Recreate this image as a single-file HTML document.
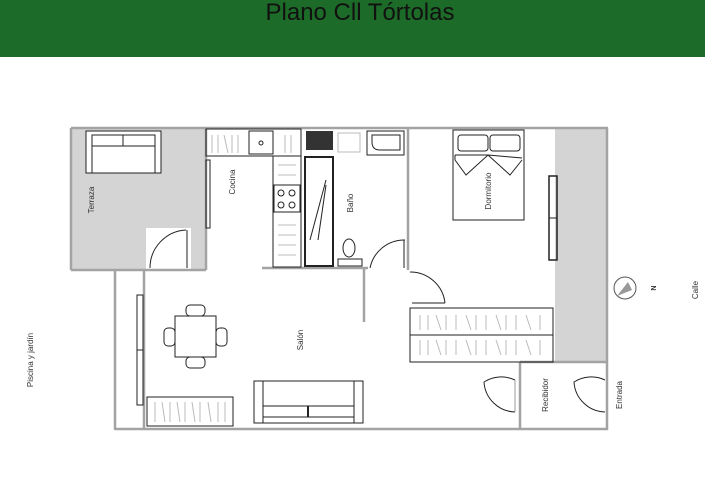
<!DOCTYPE html>
<html><head><meta charset="utf-8"><style>
html,body{margin:0;padding:0;background:#fff;width:705px;height:489px;overflow:hidden}
</style></head><body>
<svg width="705" height="489" viewBox="0 0 705 489" xmlns="http://www.w3.org/2000/svg" font-family="Liberation Sans, sans-serif">
<rect x="0" y="0" width="705" height="57" fill="#1d6b28"/>
<text x="360" y="20" font-size="24" text-anchor="middle" fill="#111">Plano Cll Tórtolas</text>

<rect x="71" y="128" width="135" height="142" fill="#d4d4d4"/>
<rect x="146" y="228" width="45" height="42" fill="#fff"/>
<rect x="555" y="128" width="52" height="234" fill="#d4d4d4"/>

<g stroke="#a3a3a3" stroke-width="2.5" fill="none">
<line x1="71" y1="128" x2="608" y2="128"/>
<line x1="607" y1="128" x2="607" y2="430"/>
<line x1="71" y1="128" x2="71" y2="270"/>
<line x1="71" y1="270" x2="206" y2="270"/>
<line x1="206" y1="128" x2="206" y2="270"/>
<line x1="115" y1="270" x2="115" y2="430"/>
<line x1="144" y1="270" x2="144" y2="430"/>
<line x1="115" y1="429" x2="608" y2="429"/>
<line x1="262" y1="268" x2="368" y2="268"/>
<line x1="408" y1="128" x2="408" y2="270"/>
<line x1="364" y1="268" x2="364" y2="322"/>
<line x1="520" y1="362" x2="607" y2="362"/>
<line x1="520" y1="362" x2="520" y2="430"/>
</g>

<g stroke="#222" stroke-width="1" fill="none">
<rect x="86" y="131" width="75" height="42" fill="#fff"/>
<rect x="92" y="135" width="63" height="11"/>
<line x1="123" y1="135" x2="123" y2="146"/>
<line x1="92" y1="135" x2="92" y2="173"/><line x1="155" y1="135" x2="155" y2="173"/>
<path d="M186 230 A38 38 0 0 0 150 268"/>
<line x1="187" y1="230" x2="187" y2="268"/>
<rect x="206" y="160" width="4" height="68"/>
<rect x="206" y="129" width="95" height="27"/>
<rect x="249" y="131" width="24" height="23"/>
<circle cx="261" cy="143" r="2"/>
<rect x="273" y="156" width="28" height="111"/>
<rect x="274" y="185" width="26" height="27"/>
<circle cx="281" cy="193" r="3"/><circle cx="292" cy="193" r="3"/>
<circle cx="281" cy="205" r="3"/><circle cx="292" cy="205" r="3"/>
<rect x="305" y="157" width="28" height="109" stroke-width="2"/>
<line x1="310" y1="240" x2="326" y2="180"/>
<line x1="318" y1="240" x2="326" y2="185"/>
<rect x="367" y="131" width="37" height="24"/>
<path d="M372 135 H400 V150 H380 Q372 150 372 142 Z"/>
<rect x="338" y="259" width="24" height="7"/>
<ellipse cx="349" cy="248" rx="6" ry="9"/>
<path d="M405 240 A35 35 0 0 0 370 268"/>
<line x1="404" y1="240" x2="404" y2="268"/>
<rect x="453" y="130" width="71" height="90"/>
<rect x="458" y="135" width="30" height="16" rx="3"/>
<rect x="490" y="135" width="30" height="16" rx="3"/>
<polyline points="455,160 466,175 488,155 510,175 522,160"/>
<line x1="455" y1="160" x2="455" y2="155"/><line x1="488" y1="155" x2="455" y2="155"/>
<line x1="488" y1="155" x2="522" y2="158"/>
<rect x="549" y="176" width="8" height="84" stroke-width="1.5"/>
<line x1="549" y1="218" x2="557" y2="218"/>
<path d="M410 272 A35 35 0 0 1 445 303"/>
<line x1="412" y1="303" x2="445" y2="303"/>
<rect x="410" y="308" width="143" height="54"/>
<line x1="410" y1="335" x2="553" y2="335"/>
<path d="M515 380 A32 32 0 0 0 484 382"/><path d="M484 382 A32 32 0 0 0 515 412"/>
<line x1="515" y1="380" x2="515" y2="412" stroke="#999"/>
<path d="M605 380 A32 32 0 0 0 574 382 A32 32 0 0 0 605 412"/>
<rect x="137" y="295" width="6" height="110"/>
<line x1="137" y1="350" x2="143" y2="350"/>
<rect x="175" y="316" width="41" height="41"/>
<rect x="186" y="305" width="19" height="11" rx="4"/>
<rect x="186" y="357" width="19" height="11" rx="4"/>
<rect x="164" y="328" width="11" height="18" rx="4"/>
<rect x="216" y="328" width="11" height="18" rx="4"/>
<rect x="254" y="381" width="109" height="42"/>
<rect x="263" y="406" width="91" height="11"/>
<line x1="308" y1="406" x2="308" y2="417" stroke-width="2"/>
<line x1="263" y1="381" x2="263" y2="423"/><line x1="354" y1="381" x2="354" y2="423"/>
<rect x="147" y="397" width="86" height="29"/>
<circle cx="625" cy="288" r="11" stroke="#555"/>
</g>
<path d="M617 296 L628 282 L632 290 Z" fill="#999"/>
<rect x="306" y="131" width="27" height="19" fill="#333"/>
<g stroke="#bbb" stroke-width="1" fill="none">
<path d="M212 135v18M218 135v18M224 135l4 18M232 135v18M238 135v18M285 135v18M291 135v18"/>
<path d="M278 225h18M278 235h18M278 245h18M278 255h18M278 165h18M278 175h18"/>
<path d="M420 315v15M428 315v15M436 315l5 15M446 315v15M456 315v15M466 315l5 15M476 315v15M486 315v15M496 315l5 15M506 315v15M516 315v15M526 315l5 15M540 315v15"/>
<path d="M420 340v15M428 340v15M436 340l5 15M446 340v15M456 340v15M466 340l5 15M476 340v15M486 340v15M496 340l5 15M506 340v15M516 340v15M526 340l5 15M540 340v15"/>
<path d="M155 402v20M162 402l3 20M170 402v20M177 402l3 20M185 402v20M192 402l3 20M200 402v20M208 402l3 20M218 402v20M225 402v20"/>
<rect x="338" y="133" width="22" height="19"/>
</g>
<g font-size="8" fill="#333">
<text transform="translate(94,200) rotate(-90)" text-anchor="middle">Terraza</text>
<text transform="translate(235,182) rotate(-90)" text-anchor="middle">Cocina</text>
<text transform="translate(353,203) rotate(-90)" text-anchor="middle">Baño</text>
<text transform="translate(491,191) rotate(-90)" text-anchor="middle">Dormitorio</text>
<text transform="translate(303,340) rotate(-90)" text-anchor="middle">Salón</text>
<text transform="translate(548,395) rotate(-90)" text-anchor="middle">Recibidor</text>
<text transform="translate(622,395) rotate(-90)" text-anchor="middle">Entrada</text>
<text transform="translate(698,290) rotate(-90)" text-anchor="middle">Calle</text>
<text transform="translate(33,360) rotate(-90)" text-anchor="middle">Piscina y jardín</text>
<text transform="translate(651,288) rotate(90)" text-anchor="middle" font-weight="bold" font-size="7">N</text>
</g>
</svg>
</body></html>
